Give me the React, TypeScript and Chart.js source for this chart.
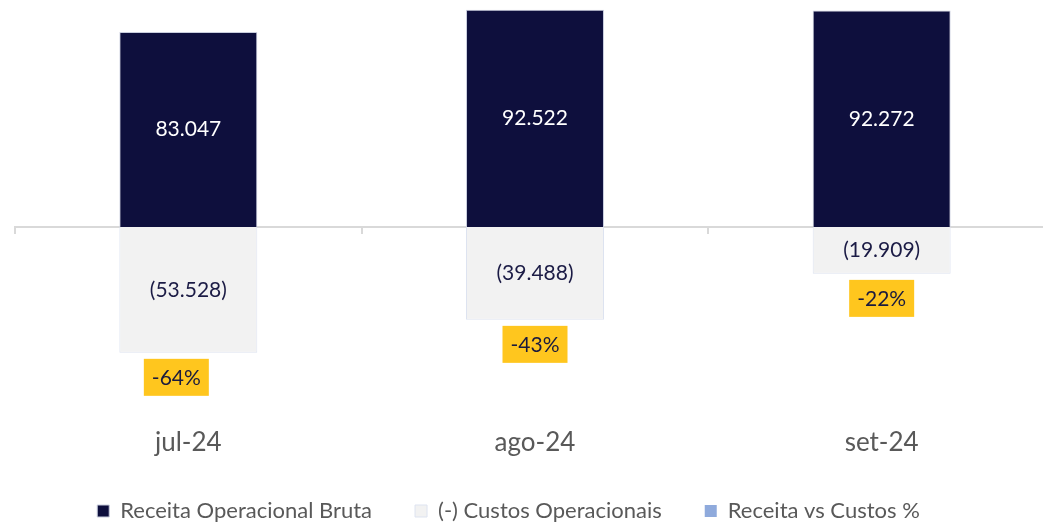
import React, { useEffect, useRef } from "react";
import { Chart, registerables } from "chart.js";

Chart.register(...registerables);

const categories = ["jul-24", "ago-24", "set-24"];
const receita = [83047, 92522, 92272];
const custos = [-53528, -39488, -19909];
const receitaVsCustos = [-0.64, -0.43, -0.22];

const seriesNames = ["Receita Operacional Bruta", "(-) Custos Operacionais", "Receita vs Custos %"];

const fmtNum = (v: number) => {
  const s = Math.abs(v).toString().replace(/\B(?=(\d{3})+(?!\d))/g, ".");
  return v < 0 ? `(${s})` : s;
};
const fmtPct = (v: number) => `${Math.round(v * 100)}%`;

const labelPlugin = {
  id: "valueLabels",
  afterDatasetsDraw(chart: any, _args: any, opts: any) {
    const ctx = chart.ctx;
    ctx.save();
    ctx.textAlign = "center";
    ctx.textBaseline = "middle";
    ctx.font = "21px Lato";
    const m0 = chart.getDatasetMeta(0);
    const m1 = chart.getDatasetMeta(1);
    m0.data.forEach((bar: any, i: number) => {
      ctx.fillStyle = "#ffffff";
      ctx.fillText(fmtNum(receita[i]), bar.x, (bar.y + bar.base) / 2);
    });
    m1.data.forEach((bar: any, i: number) => {
      ctx.fillStyle = "#1b1b45";
      ctx.fillText(fmtNum(custos[i]), bar.x, (bar.y + bar.base) / 2);
    });
    const nudges: number[] = opts.nudges || [];
    m1.data.forEach((bar: any, i: number) => {
      const bottom = Math.max(bar.y, bar.base);
      const w = 65;
      const h = 37;
      const cx = bar.x + (nudges[i] || 0);
      const top = bottom + opts.gap;
      ctx.fillStyle = "#ffc61e";
      ctx.fillRect(cx - w / 2, top, w, h);
      ctx.fillStyle = "#1a1a3e";
      ctx.fillText(fmtPct(receitaVsCustos[i]), cx, top + h / 2 + 1);
    });
    ctx.restore();
  },
};

export default function App() {
  const ref = useRef<HTMLCanvasElement | null>(null);
  useEffect(() => {
    if (!ref.current) return;
    const chart = new Chart(ref.current, {
      type: "bar",
      data: {
        labels: categories,
        datasets: [
          {
            label: seriesNames[0],
            data: receita,
            backgroundColor: "#0e0f3d",
            borderColor: "#c9cede",
            borderWidth: 1,
            barPercentage: 0.398,
            categoryPercentage: 1,
            stack: "s",
          },
          {
            label: seriesNames[1],
            data: custos,
            backgroundColor: "#f2f2f2",
            borderColor: "#dde3f0",
            borderWidth: 1,
            barPercentage: 0.398,
            categoryPercentage: 1,
            stack: "s",
          },
          {
            type: "line",
            label: seriesNames[2],
            data: receitaVsCustos,
            yAxisID: "yPct",
            backgroundColor: "#8faadc",
            borderColor: "#8faadc",
            borderWidth: 0,
            pointRadius: 0,
            showLine: false,
          } as any,
        ],
      },
      options: {
        animation: false,
        responsive: true,
        maintainAspectRatio: false,
        layout: { padding: { top: 4, left: 0, right: 0, bottom: 0 } },
        plugins: {
          tooltip: { enabled: false },
          legend: {
            position: "bottom",
            labels: {
              boxWidth: 12,
              boxHeight: 12,
              padding: 43,
              color: "#595959",
              font: { family: "Lato", size: 22 },
            },
          },
          valueLabels: { gap: 6, nudges: [-12, 0, 0] },
        } as any,
        scales: {
          x: {
            stacked: true,
            grid: { display: false, drawTicks: false },
            border: { display: false },
            ticks: {
              color: "#595959",
              font: { family: "Lato", size: 26, lineHeight: 1 },
              padding: 15,
            },
            afterFit: (s: any) => {
              s.height = 42;
            },
          },
          x2: {
            type: "category",
            labels: categories,
            position: { y: 0 } as any,
            offset: true,
            grid: {
              offset: true,
              drawOnChartArea: false,
              drawTicks: true,
              tickLength: 6,
              color: "#d9d9d9",
              lineWidth: 2,
            },
            border: { display: true, color: "#d9d9d9", width: 2 },
            ticks: { display: false },
            afterFit: (s: any) => {
              s.height = 0;
            },
          },
          y: {
            stacked: true,
            min: -80000,
            max: 95000,
            grid: { display: false },
            border: { display: false },
            ticks: { display: false },
            afterFit: (s: any) => {
              s.width = 53;
            },
          },
          yPct: {
            display: false,
            min: -1,
            max: 1,
          },
        },
      },
      plugins: [labelPlugin],
    });
    return () => chart.destroy();
  }, []);

  return (
    <div style={{ position: "absolute", left: 0, top: 0, width: 1043, height: 523, overflow: "hidden", background: "#ffffff" }}>
      <div style={{ position: "absolute", left: -38, top: 0, width: 1093, height: 532 }}>
        <canvas ref={ref} />
      </div>
    </div>
  );
}
